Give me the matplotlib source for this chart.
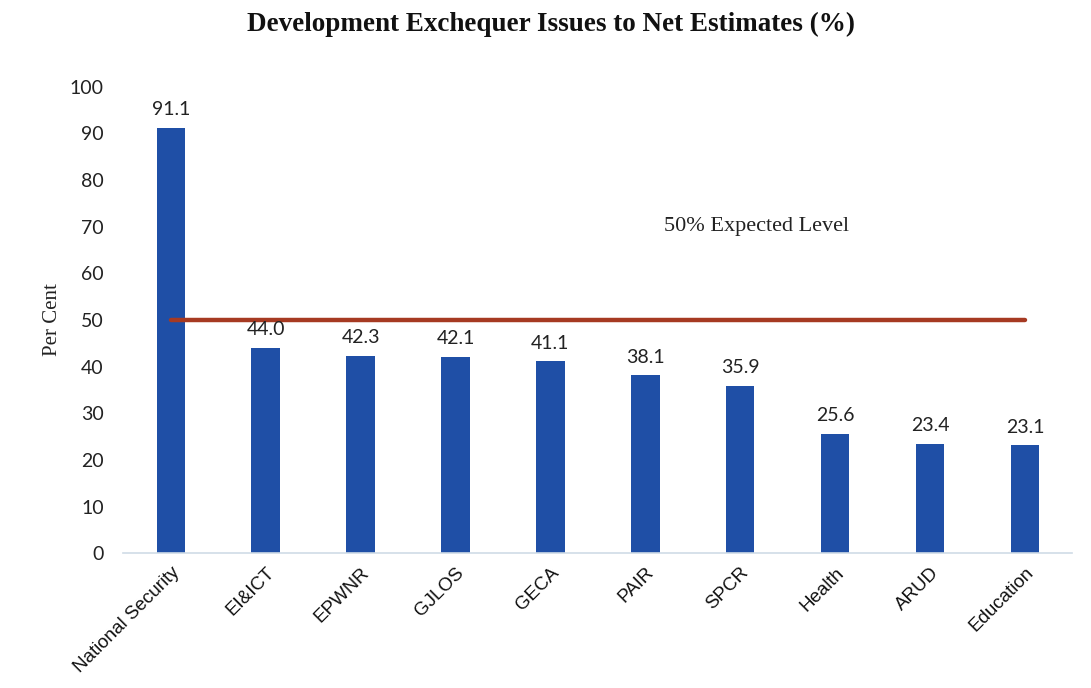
import matplotlib
matplotlib.use("Agg")
import matplotlib.pyplot as plt
import numpy as np

categories = ["National Security", "EI&ICT", "EPWNR", "GJLOS", "GECA",
              "PAIR", "SPCR", "Health", "ARUD", "Education"]
values = [91.1, 44.0, 42.3, 42.1, 41.1, 38.1, 35.9, 25.6, 23.4, 23.1]
expected_level = [50] * len(categories)
yticks = list(range(0, 101, 10))

bar_color = "#1f4fa6"
line_color = "#a63a22"
serif = ["Liberation Serif", "DejaVu Serif"]
label_font = ["Lato", "DejaVu Sans"]
cat_font = ["Liberation Sans Narrow", "Liberation Sans", "DejaVu Sans"]

fig = plt.figure(figsize=(10.91, 6.88), dpi=100)
ax = fig.add_axes([0.113, 0.196, 0.870, 0.678])

x = np.arange(len(categories))
ax.bar(x, values, width=0.3, color=bar_color, zorder=2)
ax.plot(x, expected_level, color=line_color, linewidth=3.2,
        solid_capstyle="round", zorder=3)

for xi, v in zip(x, values):
    ax.annotate(f"{v:.1f}", (xi, v), xytext=(0, 7), textcoords="offset points",
                ha="center", va="bottom", fontsize=14, family=label_font,
                color="#222222")

ax.text(6.17, 70, "50% Expected Level", ha="center", va="center",
        fontsize=16, family=serif, color="#222222")

ax.set_xlim(-0.5, len(categories) - 0.5)
ax.set_ylim(0, 100)
ax.set_yticks(yticks)
ax.set_yticklabels([str(t) for t in yticks], family=label_font, fontsize=14,
                   color="#222222")
ax.set_xticks(x)
ax.set_xticklabels(categories, rotation=45, ha="right", rotation_mode="anchor",
                   family=cat_font, fontsize=13.5, color="#111111")
ax.tick_params(axis="both", length=0)
ax.tick_params(axis="y", pad=14)
ax.tick_params(axis="x", pad=8)

for side in ["top", "right", "left"]:
    ax.spines[side].set_visible(False)
ax.spines["bottom"].set_color("#cfdbe6")
ax.spines["bottom"].set_linewidth(1.2)

ax.set_ylabel("Per Cent", family=serif, fontsize=15, color="#222222",
              labelpad=6)

fig.text(0.505, 0.965, "Development Exchequer Issues to Net Estimates (%)",
         ha="center", va="center", fontsize=19.5, fontweight="bold",
         family=serif, color="#111111")

fig.savefig("out.png", dpi=100)
